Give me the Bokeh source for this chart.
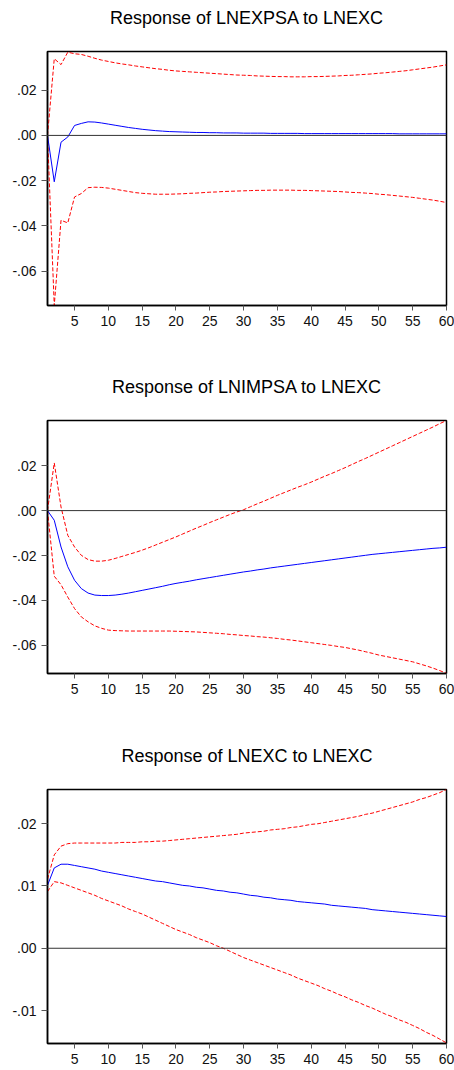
from bokeh.plotting import figure
from bokeh.models import Range1d, FixedTicker, Span, Title
from bokeh.layouts import column
from bokeh.embed import file_html
from bokeh.resources import INLINE

periods = list(range(1, 61))
x_ticks = [5, 10, 15, 20, 25, 30, 35, 40, 45, 50, 55, 60]

titles = ["Response of LNEXPSA to LNEXC", "Response of LNIMPSA to LNEXC", "Response of LNEXC to LNEXC"]

# Panel 1: Response of LNEXPSA to LNEXC
resp1 = [0.0, -0.0205, -0.0030, -0.0007, 0.0044, 0.0053, 0.0060, 0.0059, 0.0055, 0.0050,
         0.0045, 0.0040, 0.0035, 0.0031, 0.0027, 0.0024, 0.0021, 0.0019, 0.0017, 0.0016,
         0.0015, 0.0014, 0.0013, 0.0013, 0.0012, 0.0012, 0.0011, 0.0011, 0.0011, 0.0010,
         0.0010, 0.0010, 0.0010, 0.0009, 0.0009, 0.0009, 0.0009, 0.0009, 0.0008, 0.0008,
         0.0008, 0.0008, 0.0008, 0.0008, 0.0008, 0.0008, 0.0008, 0.0008, 0.0008, 0.0008,
         0.0008, 0.0008, 0.0007, 0.0007, 0.0007, 0.0007, 0.0007, 0.0007, 0.0007, 0.0007]
up1 = [0.0, 0.0339, 0.0313, 0.0368, 0.0361, 0.0358, 0.0350, 0.0341, 0.0333, 0.0327,
       0.0321, 0.0316, 0.0312, 0.0307, 0.0303, 0.0299, 0.0295, 0.0292, 0.0288, 0.0285,
       0.0283, 0.0281, 0.0279, 0.0277, 0.0275, 0.0273, 0.0271, 0.0269, 0.0267, 0.0266,
       0.0265, 0.0263, 0.0262, 0.0261, 0.0260, 0.0260, 0.0259, 0.0259, 0.0259, 0.0260,
       0.0260, 0.0261, 0.0262, 0.0263, 0.0265, 0.0266, 0.0268, 0.0270, 0.0272, 0.0275,
       0.0277, 0.0280, 0.0283, 0.0286, 0.0290, 0.0294, 0.0298, 0.0302, 0.0307, 0.0312]
lo1 = [0.0, -0.0752, -0.0375, -0.0387, -0.0272, -0.0257, -0.0231, -0.0229, -0.0230, -0.0233,
       -0.0238, -0.0243, -0.0248, -0.0253, -0.0256, -0.0258, -0.0260, -0.0260, -0.0260, -0.0259,
       -0.0258, -0.0256, -0.0255, -0.0253, -0.0251, -0.0250, -0.0248, -0.0247, -0.0246, -0.0245,
       -0.0244, -0.0243, -0.0243, -0.0242, -0.0242, -0.0242, -0.0242, -0.0243, -0.0243, -0.0244,
       -0.0245, -0.0246, -0.0247, -0.0248, -0.0250, -0.0252, -0.0253, -0.0255, -0.0257, -0.0260,
       -0.0262, -0.0265, -0.0268, -0.0271, -0.0274, -0.0278, -0.0282, -0.0286, -0.0291, -0.0297]

# Panel 2: Response of LNIMPSA to LNEXC
resp2 = [0.0, -0.0043, -0.0162, -0.0250, -0.0310, -0.0347, -0.0367, -0.0376, -0.0378, -0.0378,
         -0.0376, -0.0372, -0.0367, -0.0361, -0.0355, -0.0349, -0.0343, -0.0337, -0.0330, -0.0324,
         -0.0319, -0.0314, -0.0308, -0.0303, -0.0298, -0.0293, -0.0288, -0.0283, -0.0278, -0.0273,
         -0.0269, -0.0264, -0.0260, -0.0255, -0.0251, -0.0247, -0.0243, -0.0239, -0.0235, -0.0231,
         -0.0227, -0.0223, -0.0219, -0.0215, -0.0211, -0.0207, -0.0203, -0.0199, -0.0195, -0.0192,
         -0.0189, -0.0186, -0.0183, -0.0180, -0.0177, -0.0174, -0.0171, -0.0168, -0.0166, -0.0163]
up2 = [0.0, 0.0212, 0.0016, -0.0110, -0.0162, -0.0199, -0.0218, -0.0225, -0.0225, -0.0221,
       -0.0213, -0.0204, -0.0195, -0.0186, -0.0176, -0.0165, -0.0153, -0.0141, -0.0129, -0.0117,
       -0.0104, -0.0091, -0.0078, -0.0066, -0.0053, -0.0041, -0.0029, -0.0017, -0.0006, 0.0004,
       0.0017, 0.0030, 0.0042, 0.0055, 0.0068, 0.0080, 0.0092, 0.0104, 0.0115, 0.0127,
       0.0140, 0.0153, 0.0165, 0.0178, 0.0191, 0.0205, 0.0219, 0.0232, 0.0246, 0.0260,
       0.0274, 0.0288, 0.0302, 0.0316, 0.0330, 0.0344, 0.0358, 0.0372, 0.0387, 0.0401]
lo2 = [0.0, -0.0292, -0.0330, -0.0385, -0.0436, -0.0473, -0.0495, -0.0513, -0.0524, -0.0532,
       -0.0534, -0.0535, -0.0536, -0.0536, -0.0536, -0.0536, -0.0536, -0.0536, -0.0536, -0.0537,
       -0.0538, -0.0539, -0.0540, -0.0542, -0.0544, -0.0546, -0.0548, -0.0551, -0.0553, -0.0556,
       -0.0558, -0.0561, -0.0563, -0.0566, -0.0569, -0.0573, -0.0576, -0.0580, -0.0584, -0.0588,
       -0.0592, -0.0596, -0.0600, -0.0605, -0.0609, -0.0615, -0.0621, -0.0628, -0.0635, -0.0643,
       -0.0649, -0.0655, -0.0661, -0.0667, -0.0673, -0.0682, -0.0691, -0.0701, -0.0712, -0.0724]

# Panel 3: Response of LNEXC to LNEXC
resp3 = [0.0101, 0.0129, 0.0135, 0.0135, 0.0133, 0.0131, 0.0129, 0.0127, 0.0124, 0.0122,
         0.0120, 0.0118, 0.0116, 0.0114, 0.0112, 0.0110, 0.0108, 0.0107, 0.0105, 0.0103,
         0.0101, 0.0100, 0.0098, 0.0097, 0.0095, 0.0093, 0.0092, 0.0090, 0.0089, 0.0087,
         0.0085, 0.0084, 0.0082, 0.0081, 0.0079, 0.0078, 0.0077, 0.0075, 0.0074, 0.0073,
         0.0072, 0.0071, 0.0069, 0.0068, 0.0067, 0.0066, 0.0065, 0.0064, 0.0062, 0.0061,
         0.0060, 0.0059, 0.0058, 0.0057, 0.0056, 0.0055, 0.0054, 0.0053, 0.0052, 0.0051]
up3 = [0.0111, 0.0150, 0.0164, 0.0168, 0.0169, 0.0169, 0.0169, 0.0169, 0.0169, 0.0169,
       0.0169, 0.0170, 0.0170, 0.0170, 0.0171, 0.0171, 0.0172, 0.0172, 0.0173, 0.0174,
       0.0175, 0.0176, 0.0177, 0.0178, 0.0179, 0.0180, 0.0181, 0.0182, 0.0183, 0.0185,
       0.0186, 0.0187, 0.0188, 0.0190, 0.0191, 0.0192, 0.0194, 0.0195, 0.0197, 0.0199,
       0.0200, 0.0202, 0.0204, 0.0206, 0.0208, 0.0210, 0.0212, 0.0215, 0.0217, 0.0220,
       0.0223, 0.0226, 0.0229, 0.0232, 0.0235, 0.0239, 0.0242, 0.0246, 0.0250, 0.0255]
lo3 = [0.0091, 0.0107, 0.0105, 0.0101, 0.0097, 0.0093, 0.0089, 0.0085, 0.0080, 0.0076,
       0.0072, 0.0068, 0.0063, 0.0059, 0.0055, 0.0050, 0.0045, 0.0040, 0.0035, 0.0030,
       0.0026, 0.0022, 0.0017, 0.0013, 0.0009, 0.0004, 0.0000, -0.0005, -0.0010, -0.0015,
       -0.0019, -0.0023, -0.0027, -0.0031, -0.0035, -0.0039, -0.0043, -0.0048, -0.0052, -0.0056,
       -0.0060, -0.0065, -0.0069, -0.0074, -0.0078, -0.0083, -0.0087, -0.0092, -0.0096, -0.0101,
       -0.0106, -0.0110, -0.0115, -0.0119, -0.0124, -0.0129, -0.0135, -0.0140, -0.0146, -0.0152]

y_ticks_12 = [-0.06, -0.04, -0.02, 0.0, 0.02]
y_labels_12 = ["-.06", "-.04", "-.02", ".00", ".02"]
y_ticks_3 = [-0.01, 0.0, 0.01, 0.02]
y_labels_3 = ["-.01", ".00", ".01", ".02"]

y_range_1 = (-0.0752, 0.0371)
y_range_2 = (-0.0725, 0.0401)
y_range_3 = (-0.0153, 0.0255)

FONT = "Liberation Sans"


def make_panel(title, resp, up, lo, yr, yticks, ylabels, height, top, bottom):
    p = figure(width=454, height=height, x_range=Range1d(1, 60), y_range=Range1d(*yr),
               output_backend="svg", toolbar_location=None, title=title,
               min_border_left=47, min_border_right=8, min_border_top=top,
               min_border_bottom=bottom)
    p.title.align = "center"
    p.title.vertical_align = "bottom"
    p.title.text_font = FONT
    p.title.text_font_size = "18px"
    p.title.text_font_style = "normal"
    p.title.text_color = "#000000"
    p.title.standoff = 2
    # invisible spacer between the title and the frame
    p.add_layout(Title(text=" ", text_font_size="1px", standoff=20), "above")

    p.grid.visible = False
    p.outline_line_color = "#000000"
    p.outline_line_width = 1.5
    p.outline_line_alpha = 1.0
    p.background_fill_color = "white"
    p.border_fill_color = "white"

    p.add_layout(Span(location=0, dimension="width", line_color="#333333", line_width=1))

    p.line(periods, up, line_color="#ff0000", line_dash="4 2", line_width=1)
    p.line(periods, lo, line_color="#ff0000", line_dash="4 2", line_width=1)
    p.line(periods, resp, line_color="#0000ff", line_width=1)

    p.xaxis.ticker = FixedTicker(ticks=x_ticks)
    p.yaxis.ticker = FixedTicker(ticks=yticks)
    p.yaxis.major_label_overrides = dict(zip(yticks, ylabels))
    for ax in (p.xaxis[0], p.yaxis[0]):
        ax.axis_line_color = "#000000"
        ax.axis_line_width = 1.5
        ax.major_tick_line_color = "#555555"
        ax.major_tick_line_width = 1
        ax.minor_tick_line_color = None
        ax.major_tick_in = 0
        ax.major_label_text_font = FONT
        ax.major_label_text_font_size = "14px"
        ax.major_label_text_color = "#111111"
    p.yaxis.major_tick_out = 6
    p.yaxis.major_label_standoff = 5
    p.xaxis.major_tick_out = 5
    p.xaxis.major_label_standoff = 5
    return p


p1 = make_panel(titles[0], resp1, up1, lo1, y_range_1, y_ticks_12, y_labels_12, 369, 51, 64)
p2 = make_panel(titles[1], resp2, up2, lo2, y_range_2, y_ticks_12, y_labels_12, 369, 51, 65)
p3 = make_panel(titles[2], resp3, up3, lo3, y_range_3, y_ticks_3, y_labels_3, 330, 51, 25)

layout = column(p1, p2, p3)
open("out.html", "w").write(file_html(layout, INLINE))
